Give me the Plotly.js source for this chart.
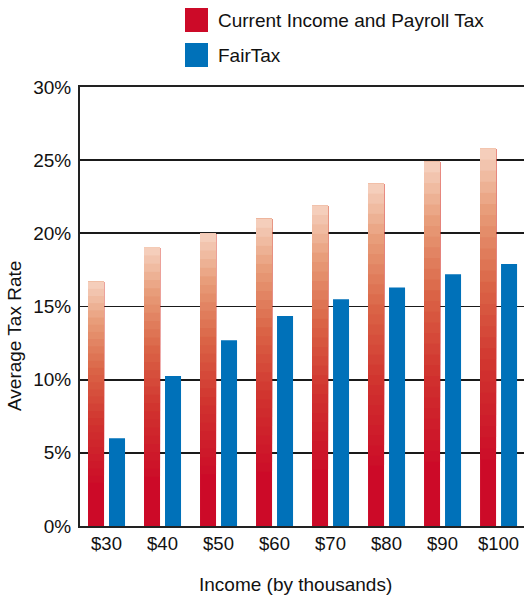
<!DOCTYPE html>
<html>
<head>
<meta charset="utf-8">
<script src="https://cdn.plot.ly/plotly-3.0.1.min.js"></script>
<style>html,body{margin:0;padding:0;background:#fff;}#chart{width:524px;height:597px;}</style>
</head>
<body>
<div id="chart"></div>
<script>
// Data
const categories = ["$30", "$40", "$50", "$60", "$70", "$80", "$90", "$100"];
const currentTax = [16.7, 19.05, 20.0, 21.0, 21.9, 23.4, 24.9, 25.8];
const fairTax = [6.0, 10.25, 12.7, 14.35, 15.5, 16.3, 17.2, 17.9];
const yTickVals = [0, 5, 10, 15, 20, 25, 30];
const yTickText = ["0%", "5%", "10%", "15%", "20%", "25%", "30%"];
const seriesNames = ["Current Income and Payroll Tax", "FairTax"];

const RED = "#cc0a28";
const BLUE = "#0071b9";
const FONT = "Liberation Sans, Arial, Helvetica, sans-serif";

// gradient stops (fraction of bar height from bottom -> colour)
const stops = [
  [0.0, [204, 10, 40]],
  [0.15, [204, 12, 40]],
  [0.40, [208, 50, 46]],
  [0.62, [218, 100, 70]],
  [0.82, [232, 156, 120]],
  [1.0, [247, 216, 200]]
];
function gradColor(f) {
  for (let k = 1; k < stops.length; k++) {
    if (f <= stops[k][0]) {
      const a = stops[k - 1], b = stops[k];
      const t = (f - a[0]) / (b[0] - a[0]);
      const c = a[1].map((v, j) => Math.round(v + (b[1][j] - v) * t));
      return "rgb(" + c.join(",") + ")";
    }
  }
  return "rgb(247,216,200)";
}

const N = 34;
const traces = [];
for (let i = 0; i < N; i++) {
  const frac = i / N;
  const solid = frac < 0.15;
  if (solid && i > 0) continue;
  traces.push({
    type: "bar",
    x: categories,
    base: currentTax.map(v => v * frac),
    y: currentTax.map(v => v * (1 - frac)),
    offset: -0.33,
    width: 0.286,
    marker: { color: gradColor(solid ? 0 : frac), line: { width: 0 } },
    hoverinfo: "skip",
    showlegend: false,
    name: seriesNames[0]
  });
}
traces.push({
  type: "bar",
  x: categories,
  y: fairTax,
  offset: 0.045,
  width: 0.286,
  marker: { color: BLUE, line: { width: 0 } },
  showlegend: false,
  name: seriesNames[1]
});

// pixel helpers for paper coords
const L = 80, R = 524, T = 87, B = 526;
const px = x => (x - L) / (R - L);
const py = y => (B - y) / (B - T);

const layout = {
  width: 524,
  height: 597,
  margin: { l: 80, r: 0, t: 87, b: 71, pad: 0 },
  paper_bgcolor: "#ffffff",
  plot_bgcolor: "#ffffff",
  barmode: "overlay",
  font: { family: FONT, size: 18, color: "#111" },
  xaxis: {
    type: "category",
    range: [-0.473, 7.455],
    showline: true,
    mirror: true,
    linecolor: "#222",
    linewidth: 2,
    ticks: "",
    showgrid: false,
    zeroline: false,
    tickfont: { family: FONT, size: 18.5, color: "#111" }
  },
  yaxis: {
    range: [0, 30],
    tickvals: yTickVals,
    ticktext: yTickText,
    showline: true,
    linecolor: "#222",
    linewidth: 2,
    ticks: "",
    ticklabelstandoff: 3,
    showgrid: true,
    gridcolor: "#1a1a1a",
    gridwidth: 1.7,
    zeroline: false,
    tickfont: { family: FONT, size: 19, color: "#111" }
  },
  shapes: [
    { type: "rect", xref: "paper", yref: "paper", x0: px(185), x1: px(208), y0: py(32), y1: py(8), fillcolor: RED, line: { width: 0 } },
    { type: "rect", xref: "paper", yref: "paper", x0: px(185), x1: px(208), y0: py(67), y1: py(43), fillcolor: BLUE, line: { width: 0 } }
  ],
  annotations: [
    { xref: "paper", yref: "paper", x: px(216), y: py(20), xanchor: "left", yanchor: "middle", text: seriesNames[0], showarrow: false, font: { family: FONT, size: 19, color: "#111" } },
    { xref: "paper", yref: "paper", x: px(216), y: py(56), xanchor: "left", yanchor: "middle", text: seriesNames[1], showarrow: false, font: { family: FONT, size: 19, color: "#111" } },
    { xref: "paper", yref: "paper", x: px(295), y: py(584), xanchor: "center", yanchor: "middle", text: "Income (by thousands)", showarrow: false, font: { family: FONT, size: 19, color: "#111" } },
    { xref: "paper", yref: "paper", x: px(14), y: py(336), xanchor: "center", yanchor: "middle", textangle: -90, text: "Average Tax Rate", showarrow: false, font: { family: FONT, size: 19, color: "#111" } }
  ]
};

Plotly.newPlot("chart", traces, layout, { displayModeBar: false, staticPlot: true });
</script>
</body>
</html>
